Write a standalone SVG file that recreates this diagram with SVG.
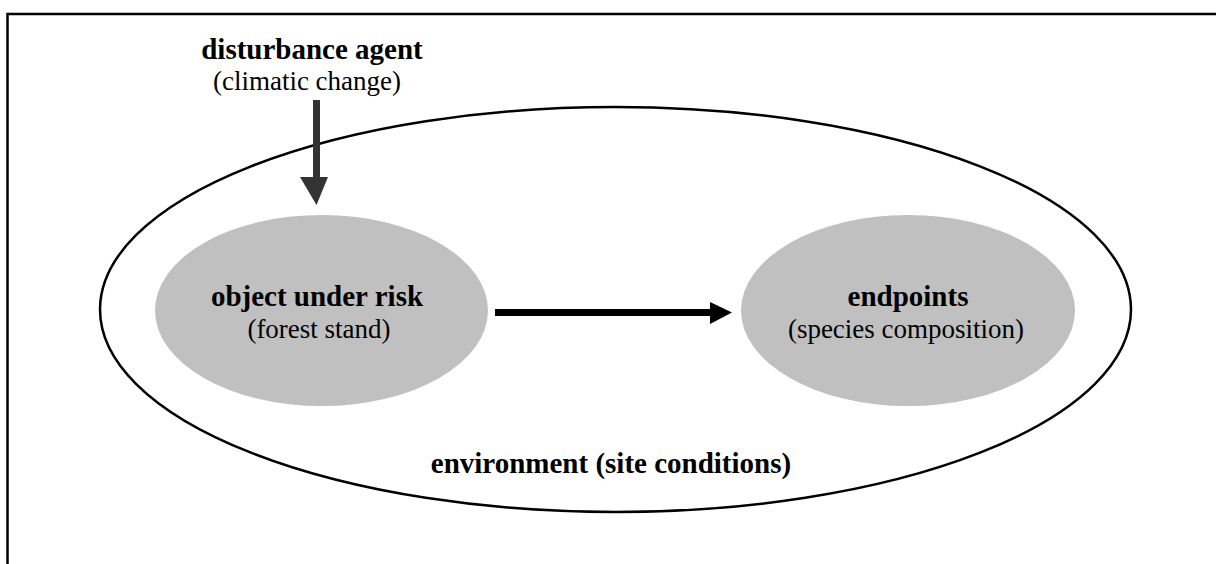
<svg xmlns="http://www.w3.org/2000/svg" width="1216" height="564" viewBox="0 0 1216 564">
<style>
.b{font-family:"Liberation Serif","Times New Roman",serif;font-weight:bold;font-size:29px;fill:#000;text-anchor:middle}
.r{font-family:"Liberation Serif","Times New Roman",serif;font-size:27px;fill:#000;text-anchor:middle}
.node{fill:#c0c0c0;stroke:none}
</style>
<rect width="1216" height="564" fill="#fff"/>
<path d="M7.5 564 V14 H1216" fill="none" stroke="#000" stroke-width="2.5"/>
<g id="environment">
<ellipse cx="615.5" cy="309.5" rx="515.5" ry="202.5" fill="none" stroke="#000" stroke-width="2.5"/>
<text class="b" x="611" y="473">environment (site conditions)</text>
</g>
<g id="disturbance">
<text class="b" x="312" y="59">disturbance agent</text>
<text class="r" x="307" y="90">(climatic change)</text>
</g>
<g id="object">
<ellipse class="node" cx="321.5" cy="310.5" rx="166.5" ry="95.5"/>
<text class="b" x="317" y="306">object under risk</text>
<text class="r" x="319" y="338">(forest stand)</text>
</g>
<g id="endpoints">
<ellipse class="node" cx="908" cy="310.5" rx="167" ry="95.5"/>
<text class="b" x="908" y="306">endpoints</text>
<text class="r" x="906" y="338">(species composition)</text>
</g>
<g id="connectors">
<rect x="313" y="100" width="7" height="78" fill="#333"/>
<polygon points="300,177 328,177 316.5,205" fill="#333"/>
<rect x="495" y="309" width="216" height="7" fill="#000"/>
<polygon points="710,302 732,312.5 710,324" fill="#000"/>
</g>
</svg>
